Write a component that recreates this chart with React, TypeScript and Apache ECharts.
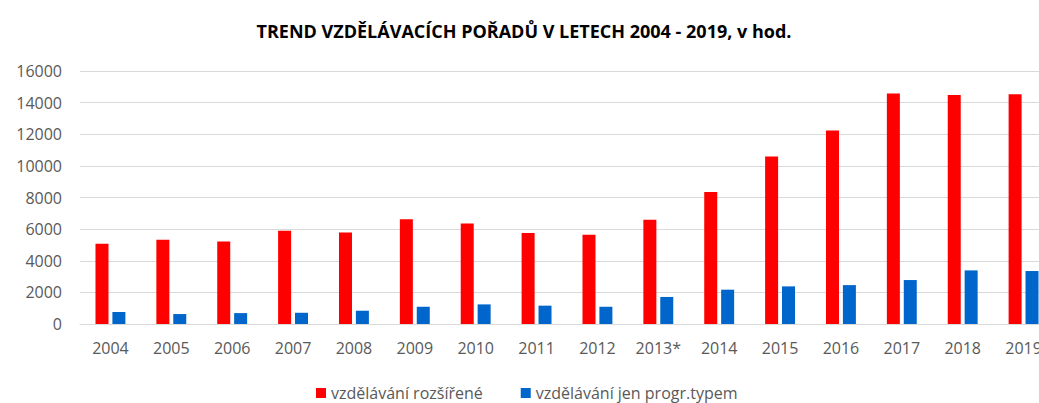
import React, { useEffect, useRef } from "react";
import * as echarts from "echarts";

const titleText = "TREND VZDĚLÁVACÍCH POŘADŮ V LETECH 2004 - 2019, v hod.";
const years = ["2004", "2005", "2006", "2007", "2008", "2009", "2010", "2011", "2012", "2013*", "2014", "2015", "2016", "2017", "2018", "2019"];
const seriesNames = ["vzdělávání rozšířené", "vzdělávání jen progr.typem"];
const extended = [5070, 5330, 5220, 5890, 5790, 6630, 6350, 5750, 5640, 6590, 8340, 10590, 12230, 14570, 14490, 14530];
const byType = [760, 630, 690, 710, 840, 1090, 1240, 1160, 1090, 1710, 2170, 2380, 2460, 2780, 3390, 3350];
const yMin = 0;
const yMax = 16000;
const yInterval = 2000;

export default function App() {
  const ref = useRef<HTMLDivElement>(null);
  useEffect(() => {
    if (!ref.current) return;
    const chart = echarts.init(ref.current, null, { renderer: "svg" });
    const font = "'Open Sans', 'DejaVu Sans', sans-serif";
    chart.setOption({
      animation: false,
      backgroundColor: "#ffffff",
      title: {
        text: titleText,
        left: 519,
        textAlign: "center",
        top: 17,
        textStyle: { fontFamily: font, fontWeight: "bold", fontSize: 18, color: "#000000" },
      },
      legend: {
        data: seriesNames,
        left: 311,
        top: 380,
        icon: "rect",
        itemWidth: 10,
        itemHeight: 10,
        itemGap: 38,
        textStyle: { fontFamily: font, fontSize: 16, color: "#595959" },
      },
      grid: { left: 80, right: 0, top: 71, bottom: 79, containLabel: false },
      xAxis: {
        type: "category",
        data: years,
        axisLine: { lineStyle: { color: "#D9D9D9", width: 1 } },
        axisTick: { show: false },
        axisLabel: { fontFamily: font, fontSize: 16, color: "#595959", margin: 16 },
      },
      yAxis: {
        type: "value",
        min: yMin,
        max: yMax,
        interval: yInterval,
        axisLine: { show: false },
        axisTick: { show: false },
        axisLabel: {
          fontFamily: font,
          fontSize: 16,
          color: "#595959",
          margin: 18,
          formatter: (v: number) => String(v),
        },
        splitLine: { lineStyle: { color: "#D9D9D9", width: 1 } },
      },
      series: [
        {
          name: seriesNames[0],
          type: "bar",
          data: extended,
          barWidth: 13,
          barGap: "30%",
          itemStyle: { color: "#FF0000" },
        },
        {
          name: seriesNames[1],
          type: "bar",
          data: byType,
          barWidth: 13,
          barGap: "30%",
          itemStyle: { color: "#0066CC" },
        },
      ],
    });
    return () => chart.dispose();
  }, []);
  return (
    <div style={{ position: "absolute", left: 0, top: 0, width: 1039, height: 403, overflow: "hidden" }}>
      <div ref={ref} style={{ width: 1054, height: 403 }} />
    </div>
  );
}
